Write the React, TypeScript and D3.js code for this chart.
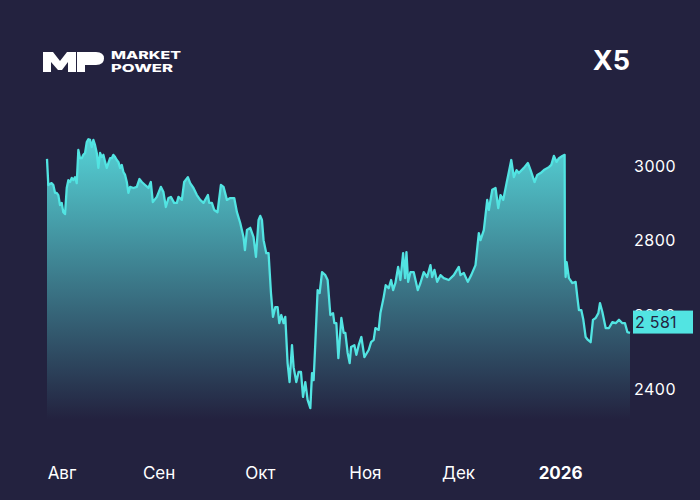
import * as d3 from "d3";

const width = 700;
const height = 500;

const BG = "#23223f";
const LINE = "#52e4e2";
const FONT = "Inter, 'Open Sans', sans-serif";

// position along the axis (sessions from the start of the chart) and close price
const sessions = [
  0, 1.3, 3, 4.7, 6.3, 8, 9.7, 11.3, 13, 14.7, 16.3, 18, 19.7, 21.3, 23, 24.7, 26.3, 28, 29.7, 31.3,
  33, 34.7, 36.3, 38, 39.7, 41.3, 43, 44.7, 46.3, 48, 49.7, 51.3, 53, 54.7, 56.3, 58, 59.7, 61.3, 63, 64.7,
  66.3, 68, 69.7, 71.3, 73, 74.7, 76.3, 78, 79.7, 81.3, 83, 86.3, 89.7, 92.3, 94.7, 98, 101.3, 103.7, 105.7, 109.7,
  113.7, 116.3, 118.7, 121.3, 123.7, 127, 129.7, 131.3, 134.7, 137, 140.7, 143, 146.3, 149.7, 153, 156.3, 160.7, 162, 164.7, 167,
  170.3, 173.7, 176.3, 179.7, 183, 187, 189.7, 193, 196.3, 197.7, 199.7, 203, 206.3, 208.7, 211.3, 213, 214.7, 216.3, 219, 221.3,
  223.7, 225.7, 228, 230.3, 232, 234, 236.3, 238, 240.3, 242.3, 244.7, 246.3, 249, 251.3, 253.7, 255.7, 258, 260.3, 263, 264.7,
  266.3, 268, 270.3, 272.3, 274.7, 278, 280.3, 283, 285.7, 287, 289, 291, 294, 296.3, 298, 300.3, 302.3, 303.7, 307, 309,
  311.3, 314, 317, 321.3, 323.7, 326.3, 328, 331.3, 333, 336.3, 338.3, 341.3, 343.7, 345.7, 348, 350.7, 353, 355.7, 357.7, 359,
  360.7, 363, 366.3, 370.3, 373, 376.3, 379.7, 383, 384.7, 387, 389.7, 393, 396.3, 401.3, 406.3, 411.3, 413, 416.3, 420.3, 423.7,
  428, 431.3, 433, 436.3, 439.7, 441.3, 444.7, 448, 450.7, 453, 455.7, 459, 461.3, 463.7, 466.3, 469, 471.3, 476.3, 480.3, 483,
  487, 489.7, 493, 496.3, 501.3, 503.7, 506.3, 509, 511.3, 514.7, 517, 517.3, 518, 519, 521.3, 524.7, 528, 529.7, 531.3, 533.7,
  535.7, 538, 540.3, 543, 545.3, 548, 550.7, 552.3, 554.7, 558, 561.3, 564.7, 568, 571.3, 574.7, 577.3, 579.7, 582.3,
];

const prices = [
  3019, 2949, 2952, 2954, 2949, 2928, 2928, 2922, 2895, 2901, 2876, 2871, 2941, 2962, 2957, 2968, 2962, 2970, 2954, 3043,
  3021, 3021, 3030, 3035, 3064, 3072, 3070, 3051, 3070, 3056, 3035, 2995, 3035, 3024, 3030, 3011, 2995, 3008, 3021, 3021,
  3030, 3024, 3016, 3011, 2995, 3003, 2984, 2976, 2957, 2928, 2944, 2941, 2944, 2965, 2957, 2949, 2941, 2957, 2903, 2917,
  2944, 2930, 2890, 2914, 2917, 2901, 2901, 2917, 2909, 2957, 2970, 2954, 2941, 2922, 2909, 2901, 2922, 2901, 2901, 2882,
  2876, 2949, 2944, 2909, 2914, 2914, 2876, 2847, 2809, 2774, 2828, 2834, 2809, 2756, 2855, 2866, 2855, 2801, 2766, 2766,
  2659, 2595, 2621, 2621, 2578, 2600, 2578, 2595, 2471, 2420, 2519, 2460, 2420, 2447, 2447, 2380, 2420, 2372, 2350, 2444,
  2425, 2525, 2667, 2659, 2715, 2707, 2694, 2600, 2605, 2578, 2578, 2484, 2592, 2552, 2552, 2498, 2471, 2514, 2519, 2493,
  2519, 2541, 2487, 2506, 2527, 2533, 2565, 2560, 2605, 2648, 2680, 2672, 2694, 2667, 2686, 2729, 2694, 2766, 2699, 2769,
  2689, 2715, 2715, 2667, 2686, 2715, 2702, 2734, 2702, 2721, 2689, 2707, 2699, 2694, 2707, 2729, 2707, 2713, 2689, 2707,
  2734, 2820, 2801, 2828, 2909, 2882, 2936, 2941, 2887, 2922, 2909, 2954, 2984, 3016, 2970, 2989, 2981, 2995, 3008, 2989,
  2957, 2976, 2981, 2989, 2997, 3003, 3027, 3011, 3021, 3027, 3030, 2756, 2702, 2742, 2699, 2686, 2689, 2648, 2613, 2613,
  2587, 2541, 2533, 2527, 2587, 2592, 2605, 2632, 2608, 2565, 2565, 2581, 2578, 2587, 2578, 2578, 2554, 2552,
];

const yTicks = [2400, 2600, 2800, 3000];
const monthLabels = ["Авг", "Сен", "Окт", "Ноя", "Дек", "2026"];
const monthSessions = [15, 112, 213, 318, 411, 513];
const lastPrice = 2581;

export default function App() {
  const x = d3.scaleLinear([0, 582.3], [47, 630]);
  const y = d3.scaleLinear([2400, 3000], [389.5, 166]);

  const points = sessions.map((s, i) => [s, prices[i]] as [number, number]);

  const line = d3.line<[number, number]>()
    .x((d) => x(d[0]))
    .y((d) => y(d[1]));

  const area = d3.area<[number, number]>()
    .x((d) => x(d[0]))
    .y0(y(2320))
    .y1((d) => y(d[1]));

  const lastY = y(lastPrice);

  return (
    <svg
      width={width}
      height={height}
      style={{ position: "absolute", left: 0, top: 0, display: "block", background: BG, fontFamily: FONT }}
    >
      <defs>
        <linearGradient id="fade" gradientUnits="userSpaceOnUse" x1="0" x2="0" y1={y(3072)} y2={y(2320)}>
          <stop offset="0" stopColor="#55d2d6" />
          <stop offset="1" stopColor={BG} />
        </linearGradient>
      </defs>

      {/* logo */}
      <g fill="#fff">
        <path d="M43 72V52H53L60 61L67 52H76V72H68V62L62 70H58L51 62V72Z" />
        <path d="M77 52H96Q104 52 104 58.5Q104 65 96 65H85V72H77Z" />
        <text x={111} y={59} fontSize={11} fontWeight={800} textLength={70} lengthAdjust="spacingAndGlyphs">MARKET</text>
        <text x={111} y={72} fontSize={11} fontWeight={800} textLength={62} lengthAdjust="spacingAndGlyphs">POWER</text>
      </g>

      <text x={630} y={70} textAnchor="end" fill="#fff" fontSize={27} fontWeight={700}>X5</text>

      <path d={area(points) ?? undefined} fill="url(#fade)" />
      <path d={line(points) ?? undefined} fill="none" stroke={LINE} strokeWidth={2.3} strokeLinejoin="round" />

      {/* y axis labels */}
      <g fill="#fff" fontSize={16} letterSpacing={0.5}>
        {yTicks.map((t) => (
          <text key={t} x={634} y={y(t)} dy="0.36em">{t}</text>
        ))}
      </g>

      {/* last price tag */}
      <rect x={633} y={lastY - 11.5} width={60} height={23} fill={LINE} />
      <text x={635} y={lastY} dy="0.36em" fill={BG} fontSize={16} letterSpacing={0.3}>2 581</text>

      {/* month labels */}
      <g fill="#fff" fontSize={17} textAnchor="middle">
        {monthLabels.map((m, i) => (
          <text key={m} x={x(monthSessions[i])} y={479} fontWeight={m === "2026" ? 700 : 400}>{m}</text>
        ))}
      </g>
    </svg>
  );
}
